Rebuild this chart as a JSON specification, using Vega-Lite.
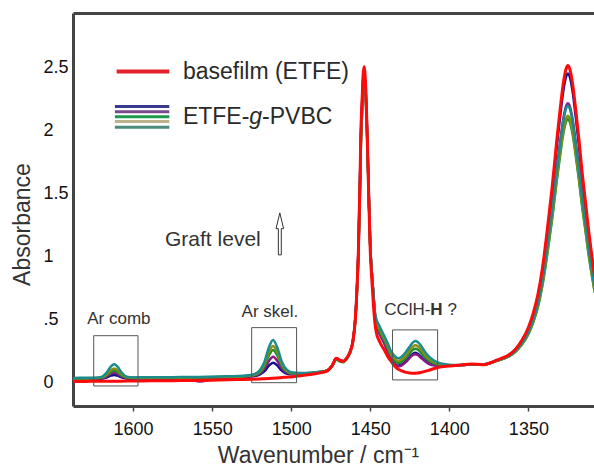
{
  "$schema": "https://vega.github.io/schema/vega-lite/v6.json",
  "width": 521,
  "height": 393,
  "autosize": {"type": "none"},
  "padding": {"left": 73, "top": 13, "right": 0, "bottom": 60},
  "background": "white",
  "config": {"font": "Liberation Sans", "view": {"stroke": null}, "axis": {"grid": false}},
  "datasets": {
    "spectra": [
      {"wn":1638,"r":0.012,"n":0.030,"p":0.032,"g":0.035,"o":0.037,"t":0.040},
      {"wn":1630,"r":0.012,"n":0.031,"p":0.033,"g":0.036,"o":0.038,"t":0.041},
      {"wn":1624,"r":0.013,"n":0.032,"p":0.034,"g":0.037,"o":0.039,"t":0.042},
      {"wn":1620,"r":0.013,"n":0.034,"p":0.037,"g":0.041,"o":0.044,"t":0.048},
      {"wn":1617,"r":0.013,"n":0.042,"p":0.049,"g":0.057,"o":0.065,"t":0.078},
      {"wn":1614,"r":0.014,"n":0.058,"p":0.073,"g":0.088,"o":0.103,"t":0.131},
      {"wn":1612,"r":0.014,"n":0.063,"p":0.080,"g":0.098,"o":0.115,"t":0.148},
      {"wn":1610,"r":0.014,"n":0.058,"p":0.073,"g":0.088,"o":0.103,"t":0.131},
      {"wn":1607,"r":0.014,"n":0.043,"p":0.050,"g":0.058,"o":0.066,"t":0.079},
      {"wn":1604,"r":0.015,"n":0.036,"p":0.039,"g":0.043,"o":0.046,"t":0.050},
      {"wn":1600,"r":0.015,"n":0.034,"p":0.036,"g":0.039,"o":0.041,"t":0.044},
      {"wn":1594,"r":0.016,"n":0.035,"p":0.037,"g":0.040,"o":0.042,"t":0.045},
      {"wn":1585,"r":0.017,"n":0.035,"p":0.037,"g":0.040,"o":0.042,"t":0.045},
      {"wn":1575,"r":0.018,"n":0.036,"p":0.038,"g":0.041,"o":0.043,"t":0.046},
      {"wn":1565,"r":0.019,"n":0.037,"p":0.035,"g":0.042,"o":0.044,"t":0.047},
      {"wn":1558,"r":0.020,"n":0.038,"p":0.012,"g":0.043,"o":0.045,"t":0.048},
      {"wn":1550,"r":0.022,"n":0.040,"p":0.028,"g":0.045,"o":0.047,"t":0.050},
      {"wn":1540,"r":0.025,"n":0.043,"p":0.045,"g":0.048,"o":0.050,"t":0.053},
      {"wn":1530,"r":0.028,"n":0.047,"p":0.049,"g":0.052,"o":0.054,"t":0.057},
      {"wn":1524,"r":0.030,"n":0.053,"p":0.056,"g":0.060,"o":0.063,"t":0.067},
      {"wn":1520,"r":0.032,"n":0.066,"p":0.074,"g":0.083,"o":0.089,"t":0.098},
      {"wn":1517,"r":0.034,"n":0.092,"p":0.111,"g":0.132,"o":0.145,"t":0.165},
      {"wn":1514,"r":0.036,"n":0.139,"p":0.177,"g":0.220,"o":0.246,"t":0.285},
      {"wn":1511.5,"r":0.038,"n":0.161,"p":0.208,"g":0.261,"o":0.293,"t":0.341},
      {"wn":1509,"r":0.040,"n":0.141,"p":0.179,"g":0.222,"o":0.248,"t":0.287},
      {"wn":1506,"r":0.043,"n":0.098,"p":0.117,"g":0.138,"o":0.151,"t":0.171},
      {"wn":1503,"r":0.046,"n":0.075,"p":0.083,"g":0.092,"o":0.098,"t":0.107},
      {"wn":1499,"r":0.050,"n":0.068,"p":0.071,"g":0.075,"o":0.078,"t":0.082},
      {"wn":1494,"r":0.057,"n":0.069,"p":0.071,"g":0.074,"o":0.076,"t":0.079},
      {"wn":1488,"r":0.067,"n":0.074,"p":0.076,"g":0.078,"o":0.079,"t":0.081},
      {"wn":1482,"r":0.080,"n":0.084,"p":0.085,"g":0.086,"o":0.087,"t":0.088},
      {"wn":1477,"r":0.098,"n":0.100,"p":0.100,"g":0.100,"o":0.100,"t":0.100},
      {"wn":1474,"r":0.140,"n":0.140,"p":0.140,"g":0.135,"o":0.140,"t":0.140},
      {"wn":1471.5,"r":0.196,"n":0.195,"p":0.195,"g":0.185,"o":0.192,"t":0.195},
      {"wn":1469,"r":0.178,"n":0.178,"p":0.178,"g":0.170,"o":0.175,"t":0.178},
      {"wn":1467,"r":0.172,"n":0.172,"p":0.172,"g":0.165,"o":0.170,"t":0.172},
      {"wn":1465,"r":0.195,"n":0.195,"p":0.195,"g":0.188,"o":0.193,"t":0.195},
      {"wn":1463,"r":0.240,"n":0.240,"p":0.240,"g":0.232,"o":0.238,"t":0.240},
      {"wn":1461,"r":0.330,"n":0.330,"p":0.330,"g":0.320,"o":0.330,"t":0.330},
      {"wn":1459.5,"r":0.500,"n":0.500,"p":0.500,"g":0.480,"o":0.500,"t":0.500},
      {"wn":1458.5,"r":0.720,"n":0.720,"p":0.720,"g":0.700,"o":0.720,"t":0.720},
      {"wn":1457.5,"r":1.050,"n":1.050,"p":1.050,"g":1.000,"o":1.030,"t":1.050},
      {"wn":1456.5,"r":1.600,"n":1.600,"p":1.580,"g":1.520,"o":1.550,"t":1.580},
      {"wn":1456,"r":1.950,"n":1.930,"p":1.900,"g":1.850,"o":1.880,"t":1.900},
      {"wn":1455,"r":2.300,"n":2.270,"p":2.250,"g":2.180,"o":2.200,"t":2.240},
      {"wn":1454.5,"r":2.450,"n":2.420,"p":2.400,"g":2.320,"o":2.350,"t":2.390},
      {"wn":1453.9,"r":2.510,"n":2.470,"p":2.450,"g":2.360,"o":2.390,"t":2.430},
      {"wn":1453,"r":2.380,"n":2.350,"p":2.340,"g":2.280,"o":2.300,"t":2.330},
      {"wn":1452,"r":2.000,"n":2.000,"p":1.990,"g":1.950,"o":1.970,"t":1.990},
      {"wn":1451,"r":1.500,"n":1.520,"p":1.520,"g":1.500,"o":1.520,"t":1.520},
      {"wn":1450,"r":1.050,"n":1.080,"p":1.080,"g":1.080,"o":1.080,"t":1.080},
      {"wn":1449,"r":0.820,"n":0.870,"p":0.870,"g":0.870,"o":0.870,"t":0.870},
      {"wn":1448,"r":0.620,"n":0.700,"p":0.690,"g":0.700,"o":0.700,"t":0.710},
      {"wn":1447,"r":0.470,"n":0.524,"p":0.520,"g":0.537,"o":0.547,"t":0.560},
      {"wn":1446,"r":0.390,"n":0.455,"p":0.450,"g":0.471,"o":0.484,"t":0.500},
      {"wn":1444.5,"r":0.340,"n":0.406,"p":0.400,"g":0.425,"o":0.441,"t":0.460},
      {"wn":1443,"r":0.300,"n":0.366,"p":0.360,"g":0.385,"o":0.401,"t":0.420},
      {"wn":1441,"r":0.260,"n":0.316,"p":0.310,"g":0.335,"o":0.351,"t":0.370},
      {"wn":1439,"r":0.210,"n":0.257,"p":0.250,"g":0.277,"o":0.294,"t":0.315},
      {"wn":1437,"r":0.175,"n":0.201,"p":0.195,"g":0.220,"o":0.236,"t":0.255},
      {"wn":1435,"r":0.140,"n":0.166,"p":0.160,"g":0.185,"o":0.201,"t":0.220},
      {"wn":1432.5,"r":0.110,"n":0.137,"p":0.130,"g":0.158,"o":0.175,"t":0.196},
      {"wn":1430,"r":0.095,"n":0.147,"p":0.140,"g":0.169,"o":0.188,"t":0.210},
      {"wn":1427.5,"r":0.084,"n":0.173,"p":0.165,"g":0.199,"o":0.219,"t":0.245},
      {"wn":1425,"r":0.079,"n":0.209,"p":0.200,"g":0.238,"o":0.261,"t":0.290},
      {"wn":1423,"r":0.077,"n":0.232,"p":0.222,"g":0.264,"o":0.290,"t":0.322},
      {"wn":1421.5,"r":0.077,"n":0.239,"p":0.228,"g":0.272,"o":0.299,"t":0.333},
      {"wn":1420,"r":0.078,"n":0.232,"p":0.222,"g":0.265,"o":0.292,"t":0.325},
      {"wn":1418,"r":0.083,"n":0.210,"p":0.200,"g":0.241,"o":0.267,"t":0.298},
      {"wn":1416,"r":0.090,"n":0.186,"p":0.178,"g":0.212,"o":0.232,"t":0.258},
      {"wn":1413,"r":0.100,"n":0.158,"p":0.152,"g":0.176,"o":0.191,"t":0.210},
      {"wn":1410,"r":0.113,"n":0.144,"p":0.140,"g":0.157,"o":0.167,"t":0.180},
      {"wn":1406,"r":0.126,"n":0.137,"p":0.135,"g":0.144,"o":0.150,"t":0.157},
      {"wn":1402,"r":0.132,"n":0.138,"p":0.137,"g":0.141,"o":0.144,"t":0.147},
      {"wn":1398,"r":0.137,"n":0.138,"p":0.138,"g":0.140,"o":0.141,"t":0.142},
      {"wn":1394,"r":0.140,"n":0.140,"p":0.140,"g":0.141,"o":0.141,"t":0.142},
      {"wn":1390,"r":0.147,"n":0.143,"p":0.143,"g":0.144,"o":0.144,"t":0.145},
      {"wn":1386,"r":0.150,"n":0.145,"p":0.145,"g":0.146,"o":0.146,"t":0.147},
      {"wn":1382,"r":0.148,"n":0.145,"p":0.145,"g":0.146,"o":0.146,"t":0.147},
      {"wn":1378,"r":0.145,"n":0.145,"p":0.145,"g":0.146,"o":0.147,"t":0.148},
      {"wn":1374,"r":0.160,"n":0.159,"p":0.158,"g":0.158,"o":0.158,"t":0.158},
      {"wn":1370,"r":0.180,"n":0.180,"p":0.177,"g":0.175,"o":0.176,"t":0.177},
      {"wn":1366,"r":0.200,"n":0.198,"p":0.193,"g":0.191,"o":0.191,"t":0.193},
      {"wn":1362,"r":0.225,"n":0.224,"p":0.216,"g":0.212,"o":0.213,"t":0.216},
      {"wn":1358,"r":0.270,"n":0.268,"p":0.256,"g":0.249,"o":0.250,"t":0.255},
      {"wn":1354,"r":0.340,"n":0.334,"p":0.316,"g":0.306,"o":0.308,"t":0.314},
      {"wn":1350,"r":0.440,"n":0.431,"p":0.403,"g":0.387,"o":0.390,"t":0.400},
      {"wn":1347,"r":0.550,"n":0.540,"p":0.500,"g":0.479,"o":0.483,"t":0.496},
      {"wn":1344,"r":0.700,"n":0.685,"p":0.630,"g":0.601,"o":0.607,"t":0.626},
      {"wn":1341,"r":0.920,"n":0.899,"p":0.823,"g":0.782,"o":0.790,"t":0.816},
      {"wn":1338,"r":1.220,"n":1.190,"p":1.084,"g":1.027,"o":1.038,"t":1.075},
      {"wn":1335,"r":1.550,"n":1.512,"p":1.373,"g":1.300,"o":1.314,"t":1.362},
      {"wn":1332,"r":1.930,"n":1.881,"p":1.705,"g":1.610,"o":1.629,"t":1.690},
      {"wn":1330,"r":2.160,"n":2.105,"p":1.905,"g":1.799,"o":1.821,"t":1.888},
      {"wn":1328,"r":2.370,"n":2.310,"p":2.090,"g":1.972,"o":1.996,"t":2.071},
      {"wn":1326,"r":2.500,"n":2.437,"p":2.203,"g":2.079,"o":2.104,"t":2.184},
      {"wn":1325,"r":2.520,"n":2.455,"p":2.220,"g":2.095,"o":2.120,"t":2.200},
      {"wn":1324,"r":2.500,"n":2.437,"p":2.203,"g":2.079,"o":2.104,"t":2.184},
      {"wn":1322,"r":2.370,"n":2.310,"p":2.090,"g":1.972,"o":1.996,"t":2.071},
      {"wn":1320,"r":2.160,"n":2.105,"p":1.905,"g":1.799,"o":1.821,"t":1.888},
      {"wn":1318,"r":1.930,"n":1.881,"p":1.705,"g":1.610,"o":1.629,"t":1.690},
      {"wn":1316,"r":1.670,"n":1.627,"p":1.477,"g":1.397,"o":1.413,"t":1.464},
      {"wn":1314,"r":1.450,"n":1.415,"p":1.286,"g":1.218,"o":1.232,"t":1.275},
      {"wn":1312,"r":1.220,"n":1.190,"p":1.084,"g":1.027,"o":1.038,"t":1.075},
      {"wn":1310,"r":1.020,"n":0.996,"p":0.910,"g":0.864,"o":0.873,"t":0.902},
      {"wn":1308,"r":0.840,"n":0.821,"p":0.752,"g":0.716,"o":0.723,"t":0.747}
    ],
    "boxes": [
      {"x1":1624.9,"x2":1596.9,"y1":0.375,"y2":-0.024},
      {"x1":1525.0,"x2":1496.6,"y1":0.439,"y2":0.002},
      {"x1":1435.9,"x2":1407.4,"y1":0.421,"y2":0.024}
    ],
    "notes": [
      {"label":"Ar comb","x":1629.0,"y":0.505},
      {"label":"Ar skel.","x":1531.4,"y":0.566},
      {"label":"CClH-","x":1441.2,"y":0.58},
      {"label":"?","x":1401.1,"y":0.58}
    ],
    "boldNotes": [{"label":"H","x":1412.0,"y":0.58}],
    "graft": [{"label":"Graft level","x":1579.8,"y":1.135}],
    "legendText": [
      {"label":"basefilm (ETFE)","x":1568.5,"y":2.471},
      {"label":"ETFE-","x":1568.5,"y":2.113},
      {"label":"-PVBC","x":1518.4,"y":2.113}
    ],
    "legendItalic": [{"label":"g","x":1526.5,"y":2.113}],
    "legendRed": [{"x1":1610.4,"x2":1577.1,"y":2.471}],
    "legendGraft": [
      {"series":"n","x1":1611.5,"x2":1577.1,"y":2.193},
      {"series":"p","x1":1611.5,"x2":1577.1,"y":2.153},
      {"series":"g","x1":1611.5,"x2":1577.1,"y":2.113},
      {"series":"o","x1":1611.5,"x2":1577.1,"y":2.074},
      {"series":"t","x1":1611.5,"x2":1577.1,"y":2.029}
    ],
    "arrow": [{"x":1507.2,"y":1.183}]
  },
  "layer": [
    {
      "data": {"name": "spectra"},
      "transform": [{"fold": ["n","p","g","o","t"], "as": ["series","A"]}],
      "mark": {"type": "line", "strokeWidth": 2.5, "interpolate": "monotone", "clip": true},
      "encoding": {
        "x": {
          "field": "wn", "type": "quantitative",
          "scale": {"domain": [1308.5, 1638], "reverse": true, "nice": false, "zero": false},
          "axis": {
            "orient": "bottom", "values": [1350,1400,1450,1500,1550,1600], "format": "d",
            "title": "Wavenumber / cm⁻¹", "titleFontSize": 23, "titleFontWeight": "normal", "titleColor": "#333",
            "titleX": 245, "titleY": 56, "titleAlign": "center", "titleBaseline": "alphabetic",
            "labelFontSize": 18, "labelColor": "#111", "labelPadding": 9, "labelFlush": false,
            "tickSize": 5, "tickColor": "#444", "tickWidth": 1.5,
            "domainColor": "#444", "domainWidth": 3
          }
        },
        "y": {
          "field": "A", "type": "quantitative",
          "scale": {"domain": [-0.183, 2.936], "nice": false, "zero": false},
          "axis": {
            "orient": "left",
            "values": [0,0.5,1,1.5,2,2.5],
            "labelExpr": "datum.value == 0.5 ? '.5' : toString(datum.value)",
            "ticks": false, "tickSize": 0, "labelAlign": "left", "labelPadding": 30, "labelBaseline": "middle",
            "labelFontSize": 18, "labelColor": "#111",
            "domainColor": "#444", "domainWidth": 3,
            "title": "Absorbance", "titleFontSize": 23, "titleFontWeight": "normal", "titleColor": "#333",
            "titleX": -51, "titleY": 211, "titleAngle": -90, "titleAlign": "center", "titleBaseline": "middle"
          }
        },
        "color": {
          "field": "series", "type": "nominal",
          "scale": {"domain": ["n","p","g","o","t"], "range": ["#10108a","#8a1a8a","#1e8c28","#8c8c14","#1a8c8c"]},
          "legend": null
        }
      }
    },
    {
      "data": {"name": "spectra"},
      "mark": {"type": "line", "strokeWidth": 3, "color": "#ff0a0a", "interpolate": "monotone", "clip": true},
      "encoding": {
        "x": {"field": "wn", "type": "quantitative", "axis": null},
        "y": {"field": "r", "type": "quantitative", "axis": null}
      }
    },
    {
      "data": {"name": "boxes"},
      "mark": {"type": "rect", "fillOpacity": 0, "stroke": "#555", "strokeWidth": 1},
      "encoding": {
        "x": {"field": "x1", "type": "quantitative", "axis": null},
        "x2": {"field": "x2"},
        "y": {"field": "y1", "type": "quantitative", "axis": null},
        "y2": {"field": "y2"}
      }
    },
    {
      "data": {"name": "notes"},
      "mark": {"type": "text", "align": "left", "baseline": "middle", "fontSize": 17, "color": "#333"},
      "encoding": {
        "x": {"field": "x", "type": "quantitative", "axis": null},
        "y": {"field": "y", "type": "quantitative", "axis": null},
        "text": {"field": "label"}
      }
    },
    {
      "data": {"name": "boldNotes"},
      "mark": {"type": "text", "align": "left", "baseline": "middle", "fontSize": 17, "fontWeight": "bold", "color": "#333"},
      "encoding": {
        "x": {"field": "x", "type": "quantitative", "axis": null},
        "y": {"field": "y", "type": "quantitative", "axis": null},
        "text": {"field": "label"}
      }
    },
    {
      "data": {"name": "graft"},
      "mark": {"type": "text", "align": "left", "baseline": "middle", "fontSize": 21, "color": "#333"},
      "encoding": {
        "x": {"field": "x", "type": "quantitative", "axis": null},
        "y": {"field": "y", "type": "quantitative", "axis": null},
        "text": {"field": "label"}
      }
    },
    {
      "data": {"name": "legendText"},
      "mark": {"type": "text", "align": "left", "baseline": "middle", "fontSize": 23, "color": "#2a2a2a"},
      "encoding": {
        "x": {"field": "x", "type": "quantitative", "axis": null},
        "y": {"field": "y", "type": "quantitative", "axis": null},
        "text": {"field": "label"}
      }
    },
    {
      "data": {"name": "legendItalic"},
      "mark": {"type": "text", "align": "left", "baseline": "middle", "fontSize": 23, "fontStyle": "italic", "color": "#2a2a2a"},
      "encoding": {
        "x": {"field": "x", "type": "quantitative", "axis": null},
        "y": {"field": "y", "type": "quantitative", "axis": null},
        "text": {"field": "label"}
      }
    },
    {
      "data": {"name": "legendRed"},
      "mark": {"type": "rule", "strokeWidth": 4, "color": "#e3222a"},
      "encoding": {
        "x": {"field": "x1", "type": "quantitative", "axis": null},
        "x2": {"field": "x2"},
        "y": {"field": "y", "type": "quantitative", "axis": null}
      }
    },
    {
      "data": {"name": "legendGraft"},
      "mark": {"type": "rule", "strokeWidth": 3},
      "encoding": {
        "x": {"field": "x1", "type": "quantitative", "axis": null},
        "x2": {"field": "x2"},
        "y": {"field": "y", "type": "quantitative", "axis": null},
        "color": {
          "field": "series", "type": "nominal",
          "scale": {"domain": ["n","p","g","o","t"], "range": ["#3a3a8c","#7a4a8c","#1a9a4a","#bab28a","#4a8a7c"]},
          "legend": null
        }
      }
    },
    {
      "data": {"name": "arrow"},
      "mark": {
        "type": "point", "filled": true, "fill": "white", "stroke": "#333", "strokeWidth": 1, "opacity": 1,
        "size": 1764,
        "shape": "M-0.07,1L0.07,1L0.07,-0.25L0.18,-0.25L0,-1L-0.18,-0.25L-0.07,-0.25Z"
      },
      "encoding": {
        "x": {
          "field": "x", "type": "quantitative",
          "axis": {"orient": "top", "labels": false, "ticks": false, "title": null, "domainColor": "#444", "domainWidth": 3}
        },
        "y": {"field": "y", "type": "quantitative", "axis": null}
      }
    }
  ],
  "resolve": {"axis": {"x": "independent", "y": "independent"}, "scale": {"color": "independent"}}
}
